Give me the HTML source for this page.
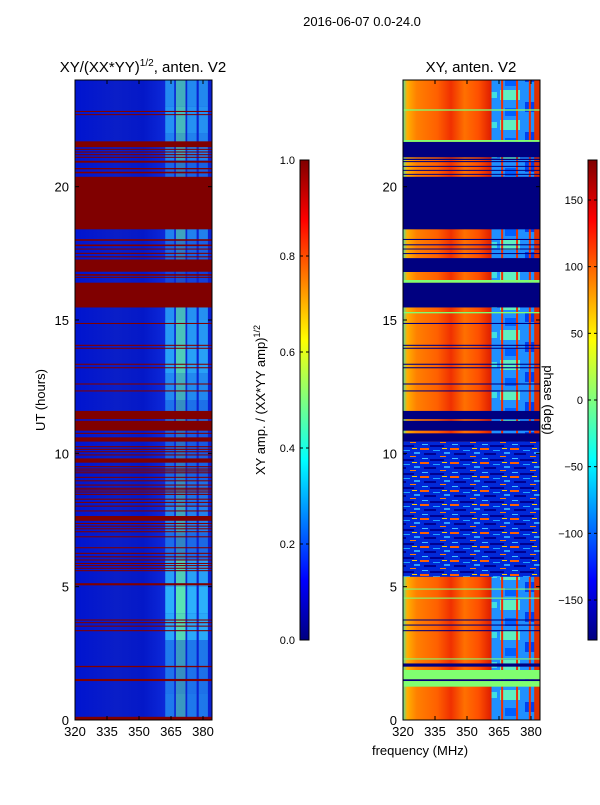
<!DOCTYPE html>
<html><head><meta charset="utf-8">
<style>
body{margin:0;background:#fff;}
svg text{font-family:"Liberation Sans",sans-serif;fill:#000;}
</style></head>
<body>
<svg id="fig" width="600" height="800" viewBox="0 0 600 800" xmlns="http://www.w3.org/2000/svg">
<defs>
<linearGradient id="jet" x1="0" y1="1" x2="0" y2="0">
<stop offset="0" stop-color="#000080"/><stop offset="0.125" stop-color="#0000ff"/><stop offset="0.375" stop-color="#00ffff"/><stop offset="0.5" stop-color="#7fff7f"/><stop offset="0.625" stop-color="#ffff00"/><stop offset="0.875" stop-color="#ff0000"/><stop offset="1" stop-color="#800000"/>
</linearGradient>
<linearGradient id="leftBase" x1="0" x2="1" y1="0" y2="0">
<stop offset="0" stop-color="#0014d0"/><stop offset="0.3" stop-color="#0a1ec8"/><stop offset="0.5" stop-color="#0418c8"/><stop offset="0.65" stop-color="#0c28d8"/><stop offset="1" stop-color="#0a20d0"/>
</linearGradient>
<linearGradient id="rightBase" x1="0" x2="1" y1="0" y2="0">
<stop offset="0" stop-color="#50e0a0"/><stop offset="0.03" stop-color="#ffb000"/><stop offset="0.1" stop-color="#ff8000"/><stop offset="0.25" stop-color="#ff6000"/><stop offset="0.35" stop-color="#f03000"/><stop offset="0.45" stop-color="#ff7000"/><stop offset="0.55" stop-color="#ff5000"/><stop offset="0.64" stop-color="#e02000"/>
</linearGradient>
<pattern id="noise" width="30" height="14" patternUnits="userSpaceOnUse">
<rect width="30" height="14" fill="#0028d8"/>
<rect x="0" y="0" width="9" height="2" fill="#ff6000"/><rect x="13" y="2" width="7" height="1" fill="#20a0ff"/>
<rect x="4" y="5" width="12" height="2" fill="#000090"/><rect x="20" y="8" width="6" height="1" fill="#ff8000"/>
<rect x="2" y="10" width="6" height="1" fill="#40c0ff"/><rect x="22" y="0" width="5" height="1" fill="#ffd000"/>
<rect x="10" y="11" width="14" height="2" fill="#000090"/><rect x="24" y="4" width="6" height="2" fill="#30a0ff"/>
</pattern>
<pattern id="hiband" width="50" height="30" patternUnits="userSpaceOnUse">
<rect width="50" height="30" fill="#2090ff"/>
<rect x="0" y="0" width="20" height="10" fill="#60f0c0"/><rect x="25" y="12" width="15" height="10" fill="#0040f0"/>
<rect x="5" y="18" width="12" height="8" fill="#0060ff"/><rect x="35" y="2" width="12" height="6" fill="#40e0e0"/>
</pattern>
</defs>
<text x="362" y="26" font-size="13" text-anchor="middle">2016-06-07 0.0-24.0</text>
<text x="143" y="72" font-size="15" text-anchor="middle">XY/(XX*YY)<tspan font-size="10" dy="-6">1/2</tspan><tspan dy="6">, anten. V2</tspan></text>
<text x="471" y="72" font-size="15" text-anchor="middle">XY, anten. V2</text>
<text transform="translate(45,400) rotate(-90)" font-size="13" text-anchor="middle">UT (hours)</text>
<text x="420" y="755" font-size="13" text-anchor="middle">frequency (MHz)</text>
<text transform="translate(265,400) rotate(-90)" font-size="13" text-anchor="middle">XY amp. / (XX*YY amp)<tspan font-size="9" dy="-5">1/2</tspan></text>
<text transform="translate(544,400) rotate(90)" font-size="13" text-anchor="middle">phase (deg)</text>
<g id="left"></g>
<g id="right"></g>
<g id="cbars"></g>
</svg>
<script>
const leftFlagBands=[[22.69,22.72],[22.8,22.84],[21.48,21.7],[21.38,21.42],[21.28,21.32],[21.18,21.22],[21.08,21.12],[20.9,20.97],[20.65,20.7],[20.5,20.56],[18.4,20.37],[17.97,18.03],[17.77,17.83],[17.64,17.68],[17.48,17.52],[17.35,17.39],[16.81,17.27],[16.66,16.72],[16.58,16.62],[15.47,16.4],[14.85,14.89],[14.03,14.07],[13.92,13.96],[13.32,13.36],[13.19,13.23],[12.58,12.62],[12.32,12.36],[11.28,11.59],[10.85,11.22],[10.73,10.77],[10.44,10.6],[10.23,10.27],[10.13,10.17],[10.04,10.08],[9.92,9.96],[9.65,9.81],[9.48,9.52],[9.39,9.43],[9.32,9.36],[9.25,9.29],[9.08,9.12],[8.95,8.99],[8.79,8.83],[8.67,8.71],[8.61,8.65],[8.53,8.57],[8.44,8.48],[8.26,8.3],[8.14,8.18],[8.0,8.04],[7.82,7.86],[7.47,7.65],[7.35,7.39],[7.25,7.29],[7.15,7.19],[7.04,7.08],[6.85,6.89],[6.44,6.48],[6.23,6.27],[6.1,6.14],[5.98,6.02],[5.85,5.89],[5.77,5.81],[5.67,5.71],[5.58,5.62],[5.05,5.13],[3.73,3.77],[3.63,3.67],[3.5,3.54],[3.33,3.37],[1.98,2.03],[1.46,1.54],[0,0.12]];
const leftActivity=[0.55,0.5,0.55,0.85,0.9,0.8,0.45,0.6,0.5,0.4,0.35,0.5,0.65,0.8,0.75,0.7,0.2,0.4,0.6,0.5,0.4,0.6,0.7,0.65];
const rightNavyBands=[[21.1,21.68],[21.0,21.05],[20.92,20.96],[20.75,20.78],[20.6,20.63],[20.45,20.48],[18.4,20.37],[18.0,18.04],[17.8,17.84],[17.65,17.68],[17.48,17.51],[16.8,17.32],[15.47,16.4],[14.85,14.89],[14.03,14.07],[13.92,13.96],[13.32,13.36],[13.19,13.23],[12.58,12.62],[12.32,12.36],[11.28,11.59],[10.85,11.22],[10.44,10.75],[3.73,3.77],[3.54,3.58],[3.33,3.37],[2.0,2.12],[1.46,1.53]];
const rightGreenBands=[[22.85,22.9],[21.68,21.75],[16.4,16.5],[15.25,15.3],[4.89,4.93],[4.55,4.59],[2.27,2.31],[1.53,1.875],[1.25,1.46]];
const rightNoisyBands=[[5.37,10.44]];
const xTicks=[320,335,350,365,380];
const yTicks=[0,5,10,15,20];
const ampTicks=[0.0,0.2,0.4,0.6,0.8,1.0];
const phaseTicks=[-150,-100,-50,0,50,100,150];

const NS="http://www.w3.org/2000/svg";
const PT=80,PB=720,PW=137;
function yS(h){return PB-(h/24)*(PB-PT);}
function mk(tag,attrs,parent){const e=document.createElementNS(NS,tag);for(const k in attrs)e.setAttribute(k,attrs[k]);parent.appendChild(e);return e;}
function panel(g,x0){
  const xS=f=>x0+(f-320)*128/60;
  return xS;
}
// LEFT
(function(){
  const g=document.getElementById('left');const x0=75;const xS=panel(g,x0);
  let r=mk('rect',{x:x0,y:PT,width:PW,height:PB-PT,fill:'url(#leftBase)'},g);
  
  
  const cols=[[362.3,366.5],[367.3,371.8],[372.6,377],[378,382.3]];
  leftActivity.forEach((a,i)=>{
    cols.forEach((c,j)=>{
      const e=mk('rect',{x:xS(c[0]),y:yS(i+1),width:xS(c[1])-xS(c[0]),height:yS(i)-yS(i+1),fill:j==1?'#60f8b0':'#30c0ff','fill-opacity':a},g);
      
      
    });
  });
  leftFlagBands.forEach(b=>{
    const e=mk('rect',{x:x0,y:yS(b[1]),width:PW,height:Math.max(1,yS(b[0])-yS(b[1])),fill:'#800000'},g);
    
    
  });
  axes(g,x0,xS,true);
})();
// RIGHT
(function(){
  const g=document.getElementById('right');const x0=403;const xS=panel(g,x0);
  let r=mk('rect',{x:x0,y:PT,width:PW,height:PB-PT,fill:'url(#rightBase)'},g);
  
  
  r=mk('rect',{x:xS(361.5),y:PT,width:xS(384.2)-xS(361.5),height:PB-PT,fill:'url(#hiband)'},g);
  
  
  [366,373,379].forEach(f=>{const e=mk('rect',{x:xS(f),y:PT,width:2,height:PB-PT,fill:'#f03000'},g);
    
    });
  r=mk('rect',{x:xS(381.5),y:PT,width:xS(384.2)-xS(381.5),height:PB-PT,fill:'#e03000'},g);
  
  
  rightNoisyBands.forEach(b=>{const e=mk('rect',{x:x0,y:yS(b[1]),width:PW,height:yS(b[0])-yS(b[1]),fill:'url(#noise)'},g);
    
    });
  rightNavyBands.forEach(b=>{const e=mk('rect',{x:x0,y:yS(b[1]),width:PW,height:Math.max(1,yS(b[0])-yS(b[1])),fill:'#000080'},g);
    
    });
  rightGreenBands.forEach(b=>{const e=mk('rect',{x:x0,y:yS(b[1]),width:PW,height:Math.max(1,yS(b[0])-yS(b[1])),fill:'#80ff70'},g);
    
    });
  axes(g,x0,xS,false);
})();
function axes(g,x0,xS,isLeft){
  const f=mk('rect',{x:x0,y:PT,width:PW,height:PB-PT,fill:'none',stroke:'#000','stroke-width':1},g);
  
  
  xTicks.forEach(v=>{
    const x=xS(v);
    mk('line',{x1:x,x2:x,y1:PB,y2:PB-4,stroke:'#000'},g);
    mk('line',{x1:x,x2:x,y1:PT,y2:PT+4,stroke:'#000'},g);
    const t=mk('text',{x:x,y:PB+16,'font-size':13,'text-anchor':'middle'},g);t.textContent=v;
    
    
  });
  yTicks.forEach(v=>{
    const y=yS(v);
    mk('line',{x1:x0,x2:x0+4,y1:y,y2:y,stroke:'#000'},g);
    mk('line',{x1:x0+PW,x2:x0+PW-4,y1:y,y2:y,stroke:'#000'},g);
    const t=mk('text',{x:x0-6,y:y+5,'font-size':13,'text-anchor':'end'},g);t.textContent=v;
    
    
  });
}
// COLORBARS
(function(){
  const g=document.getElementById('cbars');
  function cbar(x,ticks,lo,hi,name){
    const r=mk('rect',{x:x,y:160,width:9,height:480,fill:'url(#jet)',stroke:'#000','stroke-width':1},g);
    
    
    ticks.forEach(v=>{
      const y=640-(v-lo)/(hi-lo)*480;
      mk('line',{x1:x,x2:x+3,y1:y,y2:y,stroke:'#000'},g);
      mk('line',{x1:x+9,x2:x+6,y1:y,y2:y,stroke:'#000'},g);
      const t=mk('text',{x:x-5,y:y+4,'font-size':11,'text-anchor':'end'},g);
      t.textContent=(lo===0?v.toFixed(1):(v<0?'\u2212'+(-v):v));
      
      
    });
  }
  cbar(300,ampTicks,0,1,'amplitude-colorbar');
  cbar(588,phaseTicks,-180,180,'phase-colorbar');
})();
</script>
</body></html>
